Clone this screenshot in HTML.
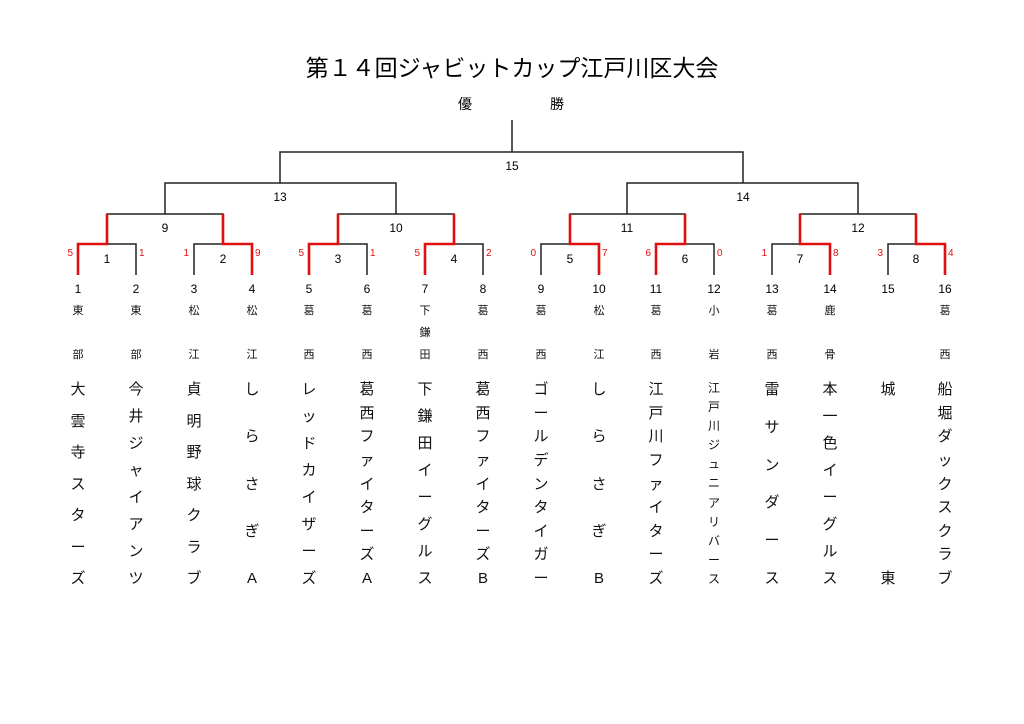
<!DOCTYPE html>
<html><head><meta charset="utf-8"><style>
body{margin:0;background:#fff;width:1024px;height:724px;position:relative;overflow:hidden;font-family:"Liberation Sans","Noto Sans CJK JP",sans-serif;color:#111}
svg{position:absolute;left:0;top:0}
.c{position:absolute;top:381px;height:206px;width:30px;margin-left:-15px;display:flex;flex-direction:column;justify-content:space-between;align-items:center;font-size:15px;line-height:17px}
.c.s{font-size:12px;line-height:15px}
.h{position:absolute;width:30px;margin-left:-15px;text-align:center;font-size:11px;line-height:13px}
</style></head><body>
<svg width="1024" height="724" font-family="Liberation Sans, Noto Sans CJK JP, sans-serif">
<text x="512" y="76" font-size="23" text-anchor="middle">第１４回ジャビットカップ江戸川区大会</text>
<text x="465" y="109" font-size="14" text-anchor="middle">優</text>
<text x="557" y="109" font-size="14" text-anchor="middle">勝</text>
<g stroke="#222" stroke-width="1.5" fill="none">
<path d="M512 120V152M280 183V152H743V183M165 214V183H396V214M627 214V183H858V214"/>
<path d="M107 244V214H223V244M338 244V214H454V244M570 244V214H685V244M800 244V214H916V244"/>
<path d="M78 275V244H136V275M194 275V244H252V275M309 275V244H367V275M425 275V244H483V275M541 275V244H599V275M656 275V244H714V275M772 275V244H830V275M888 275V244H945V275"/>
</g>
<g stroke="#e01010" stroke-width="2.6" fill="none">
<path d="M78 275V244H107V214M252 275V244H223V214M309 275V244H338V214M425 275V244H454V214"/>
<path d="M599 275V244H570V214M656 275V244H685V214M830 275V244H800V214M945 275V244H916V214"/>
</g>
<g font-size="12" text-anchor="middle">
<text x="512" y="170">15</text><text x="280" y="201">13</text><text x="743" y="201">14</text>
<text x="165" y="232">9</text><text x="396" y="232">10</text><text x="627" y="232">11</text><text x="858" y="232">12</text>
<text x="107" y="263">1</text><text x="223" y="263">2</text><text x="338" y="263">3</text><text x="454" y="263">4</text>
<text x="570" y="263">5</text><text x="685" y="263">6</text><text x="800" y="263">7</text><text x="916" y="263">8</text>
<text x="78" y="293">1</text><text x="136" y="293">2</text><text x="194" y="293">3</text><text x="252" y="293">4</text>
<text x="309" y="293">5</text><text x="367" y="293">6</text><text x="425" y="293">7</text><text x="483" y="293">8</text>
<text x="541" y="293">9</text><text x="599" y="293">10</text><text x="656" y="293">11</text><text x="714" y="293">12</text>
<text x="772" y="293">13</text><text x="830" y="293">14</text><text x="888" y="293">15</text><text x="945" y="293">16</text>
</g>
<g font-size="10" fill="#e01010">
<text x="73" y="256" text-anchor="end">5</text><text x="139" y="256">1</text>
<text x="189" y="256" text-anchor="end">1</text><text x="255" y="256">9</text>
<text x="304" y="256" text-anchor="end">5</text><text x="370" y="256">1</text>
<text x="420" y="256" text-anchor="end">5</text><text x="486" y="256">2</text>
<text x="536" y="256" text-anchor="end">0</text><text x="602" y="256">7</text>
<text x="651" y="256" text-anchor="end">6</text><text x="717" y="256">0</text>
<text x="767" y="256" text-anchor="end">1</text><text x="833" y="256">8</text>
<text x="883" y="256" text-anchor="end">3</text><text x="948" y="256">4</text>
</g>
</svg>
<div class="h" style="left:78px;top:305px">東</div><div class="h" style="left:136px;top:305px">東</div>
<div class="h" style="left:194px;top:305px">松</div><div class="h" style="left:252px;top:305px">松</div>
<div class="h" style="left:309px;top:305px">葛</div><div class="h" style="left:367px;top:305px">葛</div>
<div class="h" style="left:425px;top:305px">下</div><div class="h" style="left:483px;top:305px">葛</div>
<div class="h" style="left:541px;top:305px">葛</div><div class="h" style="left:599px;top:305px">松</div>
<div class="h" style="left:656px;top:305px">葛</div><div class="h" style="left:714px;top:305px">小</div>
<div class="h" style="left:772px;top:305px">葛</div><div class="h" style="left:830px;top:305px">鹿</div>
<div class="h" style="left:945px;top:305px">葛</div>
<div class="h" style="left:425px;top:327px">鎌</div>
<div class="h" style="left:78px;top:349px">部</div><div class="h" style="left:136px;top:349px">部</div>
<div class="h" style="left:194px;top:349px">江</div><div class="h" style="left:252px;top:349px">江</div>
<div class="h" style="left:309px;top:349px">西</div><div class="h" style="left:367px;top:349px">西</div>
<div class="h" style="left:425px;top:349px">田</div><div class="h" style="left:483px;top:349px">西</div>
<div class="h" style="left:541px;top:349px">西</div><div class="h" style="left:599px;top:349px">江</div>
<div class="h" style="left:656px;top:349px">西</div><div class="h" style="left:714px;top:349px">岩</div>
<div class="h" style="left:772px;top:349px">西</div><div class="h" style="left:830px;top:349px">骨</div>
<div class="h" style="left:945px;top:349px">西</div>

<div class="c" style="left:78px"><span>大</span><span>雲</span><span>寺</span><span>ス</span><span>タ</span><span>ー</span><span>ズ</span></div>
<div class="c" style="left:136px"><span>今</span><span>井</span><span>ジ</span><span>ャ</span><span>イ</span><span>ア</span><span>ン</span><span>ツ</span></div>
<div class="c" style="left:194px"><span>貞</span><span>明</span><span>野</span><span>球</span><span>ク</span><span>ラ</span><span>ブ</span></div>
<div class="c" style="left:252px"><span>し</span><span>ら</span><span>さ</span><span>ぎ</span><span>A</span></div>
<div class="c" style="left:309px"><span>レ</span><span>ッ</span><span>ド</span><span>カ</span><span>イ</span><span>ザ</span><span>ー</span><span>ズ</span></div>
<div class="c" style="left:367px"><span>葛</span><span>西</span><span>フ</span><span>ァ</span><span>イ</span><span>タ</span><span>ー</span><span>ズ</span><span>A</span></div>
<div class="c" style="left:425px"><span>下</span><span>鎌</span><span>田</span><span>イ</span><span>ー</span><span>グ</span><span>ル</span><span>ス</span></div>
<div class="c" style="left:483px"><span>葛</span><span>西</span><span>フ</span><span>ァ</span><span>イ</span><span>タ</span><span>ー</span><span>ズ</span><span>B</span></div>
<div class="c" style="left:541px"><span>ゴ</span><span>ー</span><span>ル</span><span>デ</span><span>ン</span><span>タ</span><span>イ</span><span>ガ</span><span>ー</span></div>
<div class="c" style="left:599px"><span>し</span><span>ら</span><span>さ</span><span>ぎ</span><span>B</span></div>
<div class="c" style="left:656px"><span>江</span><span>戸</span><span>川</span><span>フ</span><span>ァ</span><span>イ</span><span>タ</span><span>ー</span><span>ズ</span></div>
<div class="c s" style="left:714px"><span>江</span><span>戸</span><span>川</span><span>ジ</span><span>ュ</span><span>ニ</span><span>ア</span><span>リ</span><span>バ</span><span>ー</span><span>ス</span></div>
<div class="c" style="left:772px"><span>雷</span><span>サ</span><span>ン</span><span>ダ</span><span>ー</span><span>ス</span></div>
<div class="c" style="left:830px"><span>本</span><span>一</span><span>色</span><span>イ</span><span>ー</span><span>グ</span><span>ル</span><span>ス</span></div>
<div class="c" style="left:888px"><span>城</span><span>東</span></div>
<div class="c" style="left:945px"><span>船</span><span>堀</span><span>ダ</span><span>ッ</span><span>ク</span><span>ス</span><span>ク</span><span>ラ</span><span>ブ</span></div>
</body></html>
